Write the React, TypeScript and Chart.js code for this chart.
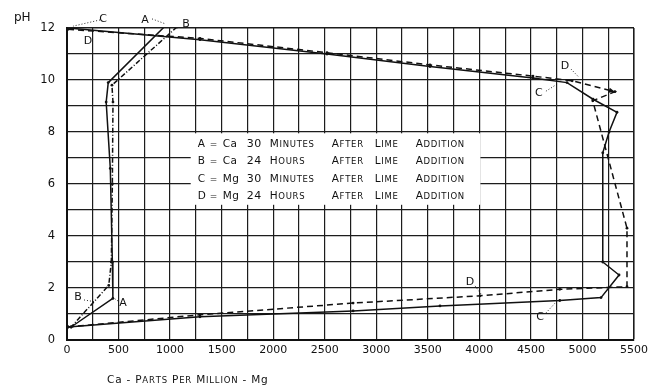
import React, { useEffect, useRef } from 'react';
import { Chart, registerables } from 'chart.js';
Chart.register(...registerables);

// ---- Data (ppm vs pH) ----
const caA_ppm = [970, 400, 380, 420, 440, 445, 40];
const caA_pH = [12.15, 9.9, 9.15, 6.6, 3.0, 1.6, 0.5];
const caB_ppm = [1067, 436, 446, 440, 430, 405, 40];
const caB_pH = [12.04, 9.8, 9.15, 6.0, 3.0, 2.1, 0.5];
const mgC_ppm = [10, 1290, 2522, 3521, 4520, 4850, 5103, 5335, 5258, 5197, 5197, 5355, 5180, 4780, 3618, 2775, 1290, 10];
const mgC_pH = [12.0, 11.55, 11.0, 10.52, 10.08, 9.9, 9.26, 8.76, 8.0, 7.2, 3.0, 2.5, 1.63, 1.52, 1.31, 1.12, 0.89, 0.5];
const mgD_ppm = [10, 1290, 2522, 3521, 4520, 4900, 5315, 5100, 5432, 5432, 4780, 4006, 2775, 1290, 10];
const mgD_pH = [11.95, 11.6, 11.05, 10.58, 10.15, 9.97, 9.55, 9.2, 4.3, 2.05, 1.95, 1.7, 1.42, 0.97, 0.5];

const xMin = 0, xMax = 5500, xStep = 250, xLabelEvery = 500;
const yMin = 0, yMax = 12, yStep = 1, yLabelEvery = 2;

// curve labels: [text, ppm, pH, leaderFromPpm, leaderFromPH, leaderToPpm, leaderToPH]
const curveLabels: [string, number, number, number | null, number | null, number | null, number | null][] = [
  ['C', 349, 12.35, 320, 12.31, 58, 12.07],
  ['D', 204, 11.5, null, null, null, null],
  ['A', 757, 12.31, 825, 12.35, 960, 12.15],
  ['B', 1154, 12.15, null, null, null, null],
  ['D', 4831, 10.53, 4889, 10.42, 4967, 10.1],
  ['C', 4578, 9.49, 4646, 9.57, 4753, 9.84],
  ['B', 107, 1.66, 165, 1.54, 272, 1.47],
  ['A', 543, 1.43, 495, 1.5, 437, 1.66],
  ['D', 3909, 2.24, 3958, 2.08, 4016, 1.77],
  ['C', 4588, 0.89, 4646, 1.04, 4753, 1.5],
];

// legend rows ({} = small caps)
const legendLetters = ['A', 'B', 'C', 'D'];
const legendElements = ['Ca', 'Ca', 'Mg', 'Mg'];
const legendNumbers = ['30', '24', '30', '24'];
const legendDurations = ['{Minutes}', '{Hours}', '{Minutes}', '{Hours}'];
const legendTail = ['{After}', '{Lime}', '{Addition}'];
const legendBoxPpm = [1200, 4010];
const legendBoxPH = [5.2, 7.95];

const xTitle = 'Ca - {Parts} {Per} {Million} - Mg';
const yTitle = 'pH';

const FAMILY = '"DejaVu Sans", sans-serif';
const INK = '#111';

function drawSC(ctx: CanvasRenderingContext2D, text: string, x: number, y: number, big: number, small: number, track: number) {
  let cx = x;
  let sc = false;
  for (const ch of text) {
    if (ch === '{') { sc = true; continue; }
    if (ch === '}') { sc = false; continue; }
    let c = ch;
    let size = big;
    if (sc && ch >= 'a' && ch <= 'z') { c = ch.toUpperCase(); size = small; }
    ctx.font = `${size}px ${FAMILY}`;
    ctx.fillText(c, cx, y);
    cx += ctx.measureText(c).width + track;
  }
  return cx;
}

const annotPlugin = {
  id: 'annot',
  beforeDatasetsDraw(chart: any) {
    const { ctx, scales: { x, y } } = chart;
    ctx.save();
    ctx.fillStyle = '#fff';
    const l = x.getPixelForValue(legendBoxPpm[0]);
    const r = x.getPixelForValue(legendBoxPpm[1]);
    const t = y.getPixelForValue(legendBoxPH[1]);
    const b = y.getPixelForValue(legendBoxPH[0]);
    ctx.fillRect(l, t, r - l, b - t);
    ctx.restore();
  },
  afterDatasetsDraw(chart: any) {
    const { ctx, scales: { x, y } } = chart;
    ctx.save();
    ctx.fillStyle = INK;
    ctx.strokeStyle = INK;
    ctx.textBaseline = 'alphabetic';
    ctx.textAlign = 'left';

    // legend text
    const l = x.getPixelForValue(legendBoxPpm[0]);
    const t = y.getPixelForValue(legendBoxPH[1]);
    const rowOff = [13.5, 31, 48.5, 66];
    const tailOff = [141, 184, 225];
    for (let i = 0; i < 4; i++) {
      const by = t + rowOff[i];
      drawSC(ctx, legendLetters[i], l + 7, by, 10.5, 8.5, 0);
      drawSC(ctx, '=', l + 19, by, 9, 8, 0);
      drawSC(ctx, legendElements[i], l + 32, by, 10.5, 8.5, 0.5);
      drawSC(ctx, legendNumbers[i], l + 56, by, 11, 8.5, 0.6);
      drawSC(ctx, legendDurations[i], l + 79, by, 10.5, 8.5, 0.7);
      for (let k = 0; k < 3; k++) drawSC(ctx, legendTail[k], l + tailOff[k], by, 10.5, 8.5, 0.7);
    }

    // curve labels and leaders
    ctx.lineWidth = 0.9;
    for (const [txt, px, py, fx, fy, tx, ty] of curveLabels) {
      ctx.font = `11px ${FAMILY}`;
      ctx.textAlign = 'center';
      ctx.textBaseline = 'middle';
      ctx.fillText(txt, x.getPixelForValue(px), y.getPixelForValue(py));
      if (fx !== null && fy !== null && tx !== null && ty !== null) {
        ctx.setLineDash([1, 2]);
        ctx.beginPath();
        ctx.moveTo(x.getPixelForValue(fx), y.getPixelForValue(fy));
        ctx.lineTo(x.getPixelForValue(tx), y.getPixelForValue(ty));
        ctx.stroke();
        ctx.setLineDash([]);
      }
    }

    // arrowhead on D at index 6
    const ax = x.getPixelForValue(mgD_ppm[6]);
    const ay = y.getPixelForValue(mgD_pH[6]);
    const px0 = x.getPixelForValue(mgD_ppm[5]);
    const py0 = y.getPixelForValue(mgD_pH[5]);
    const ang = Math.atan2(ay - py0, ax - px0);
    ctx.beginPath();
    ctx.moveTo(ax, ay);
    ctx.lineTo(ax - 6 * Math.cos(ang) + 2.5 * Math.sin(ang), ay - 6 * Math.sin(ang) - 2.5 * Math.cos(ang));
    ctx.lineTo(ax - 6 * Math.cos(ang) - 2.5 * Math.sin(ang), ay - 6 * Math.sin(ang) + 2.5 * Math.cos(ang));
    ctx.closePath();
    ctx.fill();

    // axis titles
    ctx.textAlign = 'left';
    ctx.textBaseline = 'alphabetic';
    ctx.font = `12px ${FAMILY}`;
    ctx.fillText(yTitle, 14, 21);
    drawSC(ctx, xTitle, 107, 383, 10.5, 8.5, 0.8);
    ctx.restore();
  },
};

function toPts(xs: number[], ys: number[]) {
  return xs.map((v, i) => ({ x: v, y: ys[i] }));
}

export default function App() {
  const ref = useRef<HTMLCanvasElement>(null);
  useEffect(() => {
    if (!ref.current) return;
    const common = {
      borderColor: INK,
      borderWidth: 1.5,
      pointRadius: 1.4,
      pointBackgroundColor: INK,
      pointBorderWidth: 0,
      fill: false,
      tension: 0,
    };
    const chart = new Chart(ref.current, {
      type: 'line',
      data: {
        datasets: [
          { ...common, label: 'A', data: toPts(caA_ppm, caA_pH) },
          { ...common, label: 'B', data: toPts(caB_ppm, caB_pH), borderDash: [5, 2, 1, 2] },
          { ...common, label: 'C', data: toPts(mgC_ppm, mgC_pH) },
          { ...common, label: 'D', data: toPts(mgD_ppm, mgD_pH), borderDash: [6, 4] },
        ],
      },
      options: {
        animation: false,
        responsive: false,
        maintainAspectRatio: false,
        devicePixelRatio: 1,
        layout: { padding: { left: 0, right: 18, top: 28, bottom: 0 } },
        plugins: { legend: { display: false }, tooltip: { enabled: false }, title: { display: false } },
        scales: {
          x: {
            type: 'linear',
            min: xMin,
            max: xMax,
            border: { display: true, color: INK, width: 2 },
            grid: {
              drawTicks: false,
              color: '#1c1c1c',
              lineWidth: (c: any) => (c.tick && (c.tick.value === xMax) ? 1.6 : 1.2),
            },
            ticks: {
              stepSize: xStep,
              autoSkip: false,
              maxRotation: 0,
              padding: 4,
              color: INK,
              font: { family: FAMILY, size: 11 },
              callback: (v: any) => (Number(v) % xLabelEvery === 0 ? String(v) : ''),
            },
            afterFit: (s: any) => { s.height = 48; },
          },
          y: {
            type: 'linear',
            min: yMin,
            max: yMax,
            border: { display: true, color: INK, width: 2 },
            grid: {
              drawTicks: false,
              color: '#1c1c1c',
              lineWidth: (c: any) => (c.tick && (c.tick.value === yMax) ? 1.6 : 1.2),
            },
            ticks: {
              stepSize: yStep,
              autoSkip: false,
              padding: 12,
              color: INK,
              font: { family: FAMILY, size: 11.5 },
              callback: (v: any) => (Number(v) % yLabelEvery === 0 ? String(v) : ''),
            },
            afterFit: (s: any) => { s.width = 67; },
          },
        },
      },
      plugins: [annotPlugin],
    } as any);
    return () => chart.destroy();
  }, []);
  return (
    <div style={{ position: 'absolute', left: 0, top: 0, width: 652, height: 388, background: '#fff' }}>
      <canvas ref={ref} width={652} height={388} style={{ display: 'block' }} />
    </div>
  );
}
